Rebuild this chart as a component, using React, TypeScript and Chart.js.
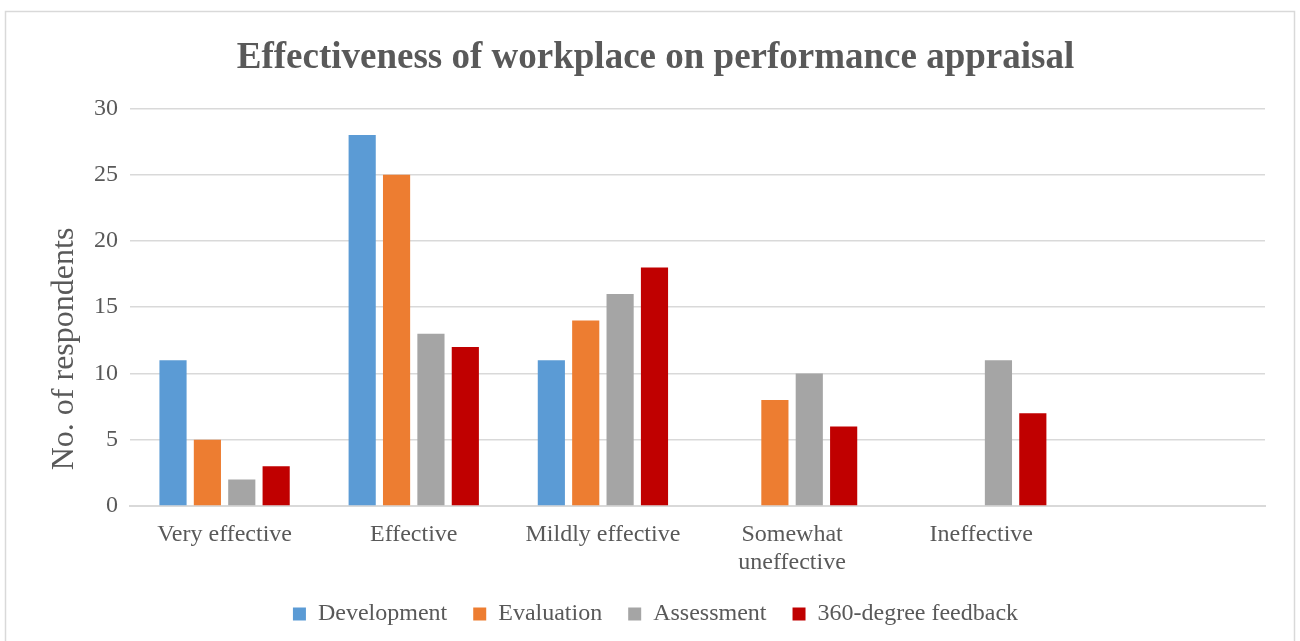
import React, { useEffect, useRef } from "react";
import { Chart, registerables } from "chart.js";

Chart.register(...registerables);

const categories: (string | string[])[] = [
  "Very effective",
  "Effective",
  "Mildly effective",
  ["Somewhat", "uneffective"],
  "Ineffective",
  "",
];
const development = [11, 28, 11, null, null, null];
const evaluation = [5, 25, 14, 8, null, null];
const assessment = [2, 13, 16, 10, 11, null];
const feedback360 = [3, 12, 18, 6, 7, null];

const seriesNames = ["Development", "Evaluation", "Assessment", "360-degree feedback"];
const seriesColors = ["#5B9BD5", "#ED7D31", "#A5A5A5", "#C00000"];

const titleText = "Effectiveness of workplace on performance appraisal";
const yTitle = "No. of respondents";

const FONT = "'Liberation Serif', 'Times New Roman', serif";
const TEXT = "#595959";

const frame = {
  id: "frame",
  beforeDraw(chart: any) {
    const { ctx, width, height } = chart;
    ctx.save();
    ctx.fillStyle = "#ffffff";
    ctx.fillRect(0, 0, width, height);
    ctx.strokeStyle = "#d9d9d9";
    ctx.lineWidth = 1.5;
    ctx.strokeRect(5.5, 11.5, width - 11, height + 10);
    ctx.restore();
  },
};

const yTitlePlugin = {
  id: "yTitle",
  afterDraw(chart: any) {
    const { ctx, chartArea } = chart;
    const h = chartArea.bottom - chartArea.top;
    ctx.save();
    ctx.translate(65, chartArea.top + h * 0.605);
    ctx.rotate(-Math.PI / 2);
    ctx.font = `32px ${FONT}`;
    ctx.fillStyle = TEXT;
    ctx.textAlign = "center";
    ctx.textBaseline = "middle";
    ctx.fillText(yTitle, 0, 0);
    ctx.restore();
  },
};

export default function App() {
  const ref = useRef<HTMLCanvasElement | null>(null);

  useEffect(() => {
    document.body.style.margin = "0";
    const series = [development, evaluation, assessment, feedback360];
    const chart = new Chart(ref.current!, {
      type: "bar",
      data: {
        labels: categories,
        datasets: series.map((d, i) => ({
          label: seriesNames[i],
          data: d,
          backgroundColor: seriesColors[i],
          borderWidth: 0,
          categoryPercentage: 0.727,
          barPercentage: 0.79,
        })),
      },
      options: {
        animation: false,
        responsive: false,
        layout: { padding: { left: 46, right: 35, top: 36, bottom: 5 } },
        plugins: {
          title: {
            display: true,
            text: titleText,
            color: TEXT,
            font: { family: FONT, size: 37, weight: "bold" },
            padding: { top: 0, bottom: 28 },
          },
          legend: {
            position: "bottom",
            labels: {
              color: TEXT,
              font: { family: FONT, size: 24 },
              boxWidth: 13,
              boxHeight: 13,
              padding: 26,
            },
          },
          tooltip: { enabled: false },
        },
        scales: {
          x: {
            grid: { display: false, drawTicks: false },
            border: { display: true, color: "#d9d9d9", width: 2 },
            ticks: {
              color: TEXT,
              font: { family: FONT, size: 24 },
              padding: 14,
              maxRotation: 0,
              autoSkip: false,
            },
            afterFit(scale: any) {
              scale.height = 70;
            },
          },
          y: {
            min: 0,
            max: 30,
            ticks: {
              stepSize: 5,
              color: TEXT,
              font: { family: FONT, size: 24 },
              padding: 12,
            },
            grid: { color: "#d9d9d9", lineWidth: 1.5, drawTicks: false },
            border: { display: false },
            title: { display: false },
            afterFit(scale: any) {
              scale.width = 84;
            },
          },
        },
      },
      plugins: [frame, yTitlePlugin],
    });
    return () => chart.destroy();
  }, []);

  return <canvas ref={ref} width={1300} height={641} style={{ display: "block" }} />;
}
